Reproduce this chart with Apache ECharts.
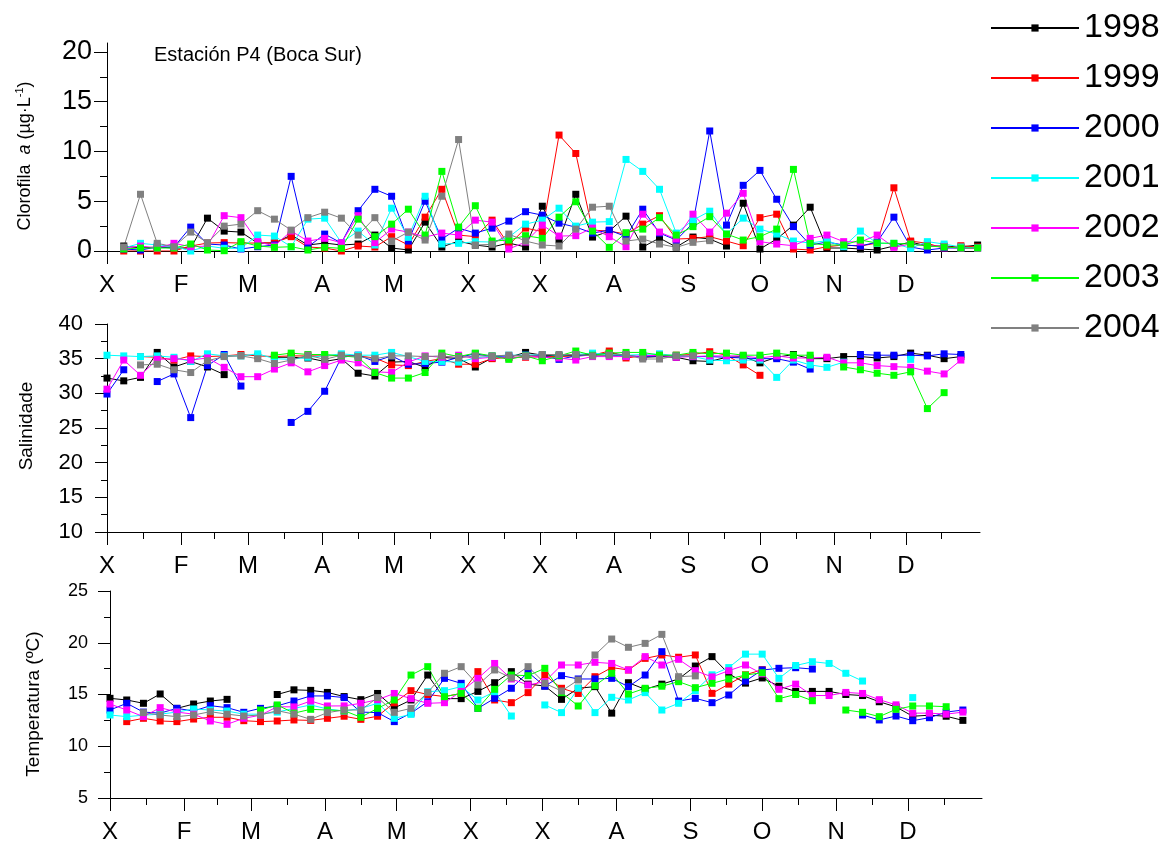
<!DOCTYPE html>
<html><head><meta charset="utf-8">
<script src="https://cdn.jsdelivr.net/npm/echarts@6/dist/echarts.min.js"></script>
<style>html,body{margin:0;padding:0;background:#fff}#c{width:1175px;height:848px}</style>
</head><body><div id="c"></div>
<script>
const years = ['1998','1999','2000','2001','2002','2003','2004'];
const colors = ['#000000','#ff0000','#0000ff','#00ffff','#ff00ff','#00ff00','#808080'];
const monthLabels = ['X','F','M','A','M','X','X','A','S','O','N','D'];
const monthStartDays = [0,31,59,90,120,151,181,212,243,273,304,334];
const monthMidDays = [15,45,74,105,135,166,196,227,258,288,319,349];
const N = null;

// Clorofila a (weekly, first sample at day 7)
const chl1998 = [0.5,0.3,0.4,0.3,0.3,3.3,2.0,1.9,0.8,0.8, 1.6,0.6,0.8,0.6,0.7,1.6,0.3,0.1,2.9,0.4, 1.0,0.6,0.4,0.8,0.4,4.5,1.1,5.7,1.4,2.0, 3.5,0.4,1.3,0.4,1.4,1.2,0.5,4.8,0.2,1.2, 2.6,4.4,0.3,0.3,0.2,0.1,0.5,0.9,0.5,0.5, 0.4,0.6];
const chl1999 = [0,0,0,0,0.5,0.8,0.84,0.8,0.8,0.84, 1.44,0.4,0.3,0,0.5,0.4,1.44,0.6,3.4,6.2, 1.6,1.44,3.1,0.6,2.3,1.95,11.65,9.8,2.1,2.0, 1.7,2.7,3.55,1.2,1.27,1.44,1.0,0.53,3.35,3.7, 0.2,0.1,0.43,0.6,0.5,0.8,6.35,1.0,0.77,0.27, 0.53,0.4];
const chl2000 = [0.2,0.1,0.4,0.4,2.4,0.7,0.6,0.2,0.43,0.6, 7.5,0.4,1.7,0.8,4.05,6.2,5.5,1.0,5.0,1.2, 2.3,1.8,2.3,3.0,3.95,3.6,2.8,2.4,1.8,2.1, 1.44,4.2,1.8,1.1,2.8,12.06,2.6,6.6,8.1,5.2, 2.45,0.6,0.9,0.6,0.5,0.9,3.4,0.4,0.1,0.3, 0.3,0.3];
const chl2001 = [0.3,0.77,0.6,0.5,0,0.5,0.27,0.27,1.6,1.5, 0.43,3.2,3.3,0.84,2.0,0.6,4.3,1.37,5.5,0.7, 0.77,0.94,0.9,1.4,2.7,3.1,4.3,2.5,2.9,2.95, 9.2,8.0,6.2,1.8,3.1,4.0,1.7,3.3,2.2,1.7, 1.0,0.8,1.04,0.43,2.0,0.77,0.77,0.27,0.94,0.7, 0.4,0.3];
const chl2002 = [0.3,0.5,0.3,0.77,0.43,0.5,3.55,3.35,0.94,0.5, 2.0,1.0,1.27,0.84,3.55,0.84,2.2,1.9,1.4,1.8, 1.6,3.1,2.9,0.2,0.9,2.6,1.5,1.54,2.3,1.44, 0.43,3.7,1.9,1.2,3.7,1.9,3.8,5.8,0.94,0.7, 0.53,1.27,1.6,0.94,0.9,1.6,0.37,0.7,0.53,0.43, 0.27,0.27];
const chl2003 = [0.2,0.3,0.3,0.3,0.7,0.1,0.03,0.94,0.5,0.37, 0.43,0.1,0.37,0.27,3.2,1.44,2.7,4.2,1.6,8.0, 2.4,4.55,1.0,1.1,1.54,1.27,3.4,4.95,2.0,0.37, 1.84,2.2,3.35,1.6,2.45,3.45,1.7,1.1,1.44,2.2, 8.2,0.77,0.6,0.6,1.1,0.8,0.77,0.7,0.5,0.4, 0.3,0.3];
const chl2004 = [0.4,5.7,0.77,0.43,1.9,0.84,2.5,2.7,4.05,3.2, 2.1,3.35,3.9,3.3,1.6,3.35,1.0,1.9,1.1,5.5, 11.2,0.6,0.67,1.7,1.0,0.6,0.5,2.2,4.4,4.5, 1.0,1.2,0.7,0.37,0.87,1.04];

// Salinidade (weekly, first sample at day 0)
const sal1998 = [32.2,31.8,32.3,35.9,33.8,34.6,33.8,32.7,N,N, 35.2,35.2,35.1,34.6,35.0,32.9,32.5,34.5,34.6,33.75, 35.2,35.0,33.8,35.1,35.2,35.9,35.5,35.4,35.5,35.6, 35.8,35.5,35.2,35.3,35.2,34.7,34.6,35.2,35.3,34.4, 35.2,35.6,35.0,35.0,35.3,35.3,35.1,35.3,35.8,35.5, 35.0,35.3];
const sal1999 = [N,N,35.3,35.2,34.8,35.4,35.3,35.4,35.6,35.4, 35.3,35.4,35.4,35.4,35.5,35.4,35.1,34.1,34.0,34.6, 35.0,34.2,34.2,35.0,35.2,35.2,35.3,35.3,35.4,35.5, 36.1,35.1,35.4,35.4,35.5,35.6,36.0,35.5,34.1,32.6];
const sal2000 = [29.9,33.4,N,31.7,32.8,26.5,34.0,35.6,31.05,N, N,25.8,27.4,30.3,35.2,35.5,34.6,35.4,34.2,34.3, 34.5,35.2,35.7,35.3,35.4,35.5,35.4,34.9,35.4,35.5, 35.5,35.4,35.3,35.4,35.4,35.3,35.3,35.2,35.1,35.0, 35.0,34.5,33.5,N,N,35.6,35.5,35.5,35.5,35.4, 35.7,35.6];
const sal2001 = [35.5,35.4,35.3,35.4,35.2,34.6,35.7,35.4,35.4,35.7, 35.0,34.9,35.2,35.4,35.7,35.5,35.5,35.9,35.3,34.6, 34.6,34.5,35.1,35.4,35.5,35.5,35.6,35.5,35.6,35.8, 35.6,35.5,35.6,35.7,35.4,35.3,34.8,34.7,34.8,34.8, 32.3,34.8,34.1,33.75,34.5,N,N,N,34.9];
const sal2002 = [30.6,34.8,32.6,34.9,35.0,34.8,35.1,33.75,32.4,32.4, 33.5,34.4,33.1,34.0,34.8,34.4,33.1,33.0,34.5,35.4, 35.2,35.5,35.0,35.2,35.1,35.3,35.2,35.1,34.8,35.3, 35.3,35.3,35.4,35.5,35.2,35.3,35.4,35.4,35.4,35.1, 35.4,35.1,35.1,35.2,34.4,34.4,34.0,33.85,33.75,33.2, 32.8,34.8];
const sal2003 = [N,N,N,N,N,N,N,N,N,N, 35.5,35.8,35.6,35.6,35.4,35.2,33.0,32.2,32.2,33.0, 35.8,35.3,35.8,35.4,34.9,35.4,34.7,35.4,36.1,35.5, 35.8,35.9,35.9,35.5,35.5,35.9,35.7,35.8,35.5,35.5, 35.8,35.5,35.5,N,33.8,33.4,32.9,32.6,33.1,27.8, 30.1];
const sal2004 = [N,N,34.1,34.2,33.4,33.0,34.7,35.3,35.4,35.0, 34.3,34.8,35.5,34.9,35.5,35.3,35.0,35.4,35.4,35.3, 35.4,35.1,35.4,35.4,35.5,35.4,35.6,35.6,35.6,35.4, 35.5,35.6,34.95,34.95,35.4,35.4];

// Temperatura (weekly, first sample at day 0)
const tem1998 = [14.63,14.47,14.15,15.05,13.66,14.08,14.37,14.53,N,N, 15.0,15.45,15.4,15.2,14.8,14.5,15.1,13.7,14.47,16.88, 14.6,14.6,15.3,16.14,17.21,16.0,15.82,14.53,15.6,15.76, 13.2,16.14,15.5,16.0,16.5,17.75,18.66,17.0,16.1,16.6, 15.8,15.3,15.3,15.3,15.0,14.9,14.3,13.8,12.9,13.0, 12.9,12.5];
const tem1999 = [N,12.38,12.7,12.44,12.38,12.63,12.8,12.8,12.47,12.38, 12.44,12.54,12.5,12.7,12.9,12.6,12.9,14.2,15.37,15.0, 14.8,15.1,17.21,14.47,14.21,15.18,16.88,15.6,15.1,16.72, 17.6,17.37,18.49,18.82,18.6,18.82,15.11,16.0,16.9,17.4];
const tem2000 = [13.5,14.15,13.3,13.2,13.66,13.4,13.92,13.73,13.28,13.66, 13.9,14.37,14.86,14.86,14.7,13.3,13.25,12.38,13.2,14.3, 16.56,16.08,13.66,14.63,15.6,17.14,15.8,16.82,16.5,16.5, 16.56,15.76,16.88,19.14,14.37,14.63,14.21,14.95,16.3,17.37, 17.53,17.59,17.46,N,N,13.02,12.54,12.92,12.47,12.76, 13.3,13.5];
const tem2001 = [13.02,12.86,13.0,13.1,13.3,13.6,13.5,13.4,13.1,13.1, 13.3,13.66,13.99,13.6,13.4,13.66,14.15,12.7,13.08,15.27, 15.37,15.76,14.47,15.27,12.92,N,13.99,13.25,15.6,13.25, 14.73,14.47,15.18,13.5,14.15,15.37,16.9,17.6,18.9,18.9, 16.56,17.8,18.17,18.0,17.05,16.3,N,N,14.7];
const tem2002 = [14.08,13.5,12.86,13.73,13.3,13.1,12.44,12.12,12.7,13.0, 13.82,13.8,14.37,13.89,13.9,14.15,14.5,15.1,14.6,14.15, 14.21,15.3,16.56,18.0,16.5,15.92,16.24,17.85,17.85,18.11, 18.0,17.37,18.66,17.85,18.4,17.3,16.7,17.3,17.85,17.0, 15.5,16.0,14.9,14.9,15.2,15.1,14.5,14.0,13.2,13.2, 13.1,13.3];
const tem2003 = [N,N,N,N,N,N,N,N,N,13.5, 13.99,13.2,13.57,13.5,13.44,12.8,13.66,14.47,16.88,17.69, 14.79,15.11,13.66,15.5,16.88,16.82,17.53,15.18,13.89,15.85, 17.05,15.05,15.6,15.8,16.24,15.66,16.08,16.5,16.88,17.1, 14.6,15.0,14.4,N,13.5,13.28,12.86,13.57,13.89,13.89, 13.82];
const tem2004 = [N,N,13.25,13.02,12.86,13.02,13.34,13.1,12.92,13.02, 13.44,13.1,12.6,13.25,13.5,13.5,14.7,13.28,13.66,15.2, 17.05,17.69,15.92,17.37,16.6,17.69,16.08,15.34,16.4,18.82, 20.36,19.56,19.94,20.81,16.72,16.8];

const chlSeries = [chl1998,chl1999,chl2000,chl2001,chl2002,chl2003,chl2004];
const salSeries = [sal1998,sal1999,sal2000,sal2001,sal2002,sal2003,sal2004];
const temSeries = [tem1998,tem1999,tem2000,tem2001,tem2002,tem2003,tem2004];

const FONT = 'Liberation Sans, Arial, Helvetica, sans-serif';
const AX = {color:'#000', width:1};

function xAxes(grid, labelSize) {
  return [
    {gridIndex:grid, type:'value', min:0, max:365, position:'bottom',
     axisLine:{show:true, onZero:false, lineStyle:AX},
     axisTick:{show:true, inside:false, length:13, customValues:monthStartDays, lineStyle:AX},
     axisLabel:{show:true, customValues:monthStartDays, margin:22, fontSize:labelSize, color:'#000', fontFamily:FONT,
       formatter:function(v){ const k = monthStartDays.indexOf(Math.round(v)); return k>=0 ? monthLabels[k] : ''; }},
     splitLine:{show:false}},
    {gridIndex:grid, type:'value', min:0, max:365, position:'bottom',
     axisLine:{show:false, onZero:false},
     axisTick:{show:true, inside:false, length:7, customValues:monthMidDays, lineStyle:AX},
     axisLabel:{show:false}, splitLine:{show:false}}
  ];
}
function yAxes(grid, min, max, major, minor, size, margin, majLen, minLen) {
  return [
    {gridIndex:grid, type:'value', min:min, max:max, position:'left',
     axisLine:{show:true, onZero:false, lineStyle:AX},
     axisTick:{show:true, inside:false, length:majLen, customValues:major, lineStyle:AX},
     axisLabel:{show:true, customValues:major, margin:margin, fontSize:size, color:'#000', fontFamily:FONT},
     splitLine:{show:false}},
    {gridIndex:grid, type:'value', min:min, max:max, position:'left',
     axisLine:{show:false, onZero:false},
     axisTick:{show:true, inside:false, length:minLen, customValues:minor, lineStyle:AX},
     axisLabel:{show:false}, splitLine:{show:false}}
  ];
}

const series = [];
function addPanel(list, startDay, xi, yi) {
  list.forEach(function(arr, k){
    series.push({
      type:'line', name:years[k], xAxisIndex:xi, yAxisIndex:yi,
      data: arr.map(function(v,i){ return [startDay + 7*i, v==null ? '-' : v]; }),
      symbol:'rect', symbolSize:7, connectNulls:false, silent:true,
      lineStyle:{width:1, color:colors[k]}, itemStyle:{color:colors[k]},
      emphasis:{disabled:true}, animation:false
    });
  });
}
addPanel(chlSeries, 7, 0, 0);
addPanel(salSeries, 0, 2, 2);
addPanel(temSeries, 0, 4, 4);

const option = {
  backgroundColor:'#fff',
  animation:false,
  color: colors,
  grid:[
    {left:107, top:43, width:873, height:208, outerBoundsMode:'none', containLabel:false},
    {left:107, top:324, width:873, height:208, outerBoundsMode:'none', containLabel:false},
    {left:110, top:591, width:872, height:207, outerBoundsMode:'none', containLabel:false}
  ],
  xAxis: [].concat(xAxes(0,24), xAxes(1,24), xAxes(2,24)),
  yAxis: [].concat(
    yAxes(0, 0, 20.9, [0,5,10,15,20], [2.5,7.5,12.5,17.5], 27, 15, 13, 7),
    yAxes(1, 10, 40, [10,15,20,25,30,35,40], [12.5,17.5,22.5,27.5,32.5,37.5], 22, 24, 12, 6),
    yAxes(2, 5, 25, [5,10,15,20,25], [7.5,12.5,17.5,22.5], 18, 22, 12, 6)
  ),
  legend:{
    data:years, orient:'vertical', left:990, top:8, itemWidth:88, itemHeight:9, itemGap:10,
    selectedMode:false, padding:0,
    textStyle:{fontSize:34, color:'#000', fontFamily:FONT, lineHeight:40}
  },
  graphic:[
    {type:'text', left:154, top:45, style:{text:'Estación P4 (Boca Sur)', font:'20px '+FONT, fill:'#000'}},
    {type:'text', x:25, y:156, rotation:Math.PI/2,
     style:{text:'{n|Clorofila  }{i|a}{n| (µg·L}{s|-1}{n|)}', align:'center', verticalAlign:'middle', fill:'#000',
       rich:{n:{fontSize:18, fontFamily:FONT, lineHeight:22},
             i:{fontSize:18, fontFamily:FONT, fontStyle:'italic', lineHeight:22},
             s:{fontSize:11, fontFamily:FONT, verticalAlign:'top', lineHeight:22}}}},
    {type:'text', x:27, y:426, rotation:Math.PI/2,
     style:{text:'Salinidade', font:'19px '+FONT, align:'center', verticalAlign:'middle', fill:'#000'}},
    {type:'text', x:34, y:704, rotation:Math.PI/2,
     style:{text:'Temperatura (ºC)', font:'19px '+FONT, align:'center', verticalAlign:'middle', fill:'#000'}}
  ],
  series: series
};
const chart = echarts.init(document.getElementById('c'), null, {renderer:'canvas'});
chart.setOption(option);
</script></body></html>
